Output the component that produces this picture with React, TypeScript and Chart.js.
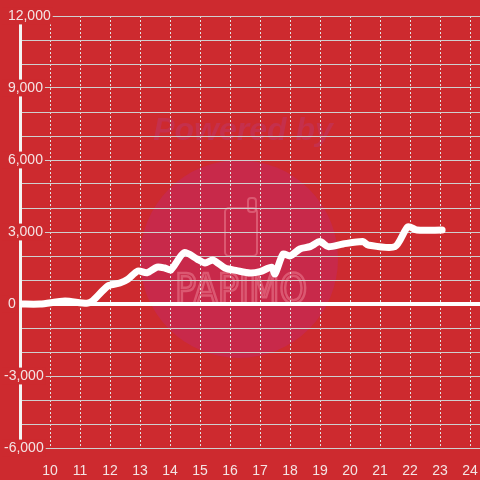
import React, { useEffect, useRef } from "react";
import { Chart, registerables } from "chart.js";

Chart.register(...registerables);

// Hour of day (x) and cumulative difference (y)
const hours = [9, 9.67, 10.5, 11.23, 11.43, 11.93, 12.33, 12.6, 12.93, 13.23, 13.57, 13.83, 14.03, 14.47, 14.9, 15.17, 15.43, 15.83, 16.23, 16.67, 17.0, 17.39, 17.5, 17.77, 18.0, 18.33, 18.67, 19.0, 19.27, 19.77, 20.43, 20.6, 21.5, 21.93, 22.23, 23.07];
const diffs = [0, 0, 120, 30, 140, 750, 875, 1040, 1375, 1300, 1540, 1500, 1420, 2140, 1875, 1710, 1830, 1500, 1390, 1290, 1345, 1530, 1250, 2080, 2000, 2290, 2390, 2600, 2390, 2500, 2600, 2460, 2390, 3220, 3080, 3080];

const xTicks = [10, 11, 12, 13, 14, 15, 16, 17, 18, 19, 20, 21, 22, 23, 24];
const yTicks = [-6000, -5000, -4000, -3000, -2000, -1000, 0, 1000, 2000, 3000, 4000, 5000, 6000, 7000, 8000, 9000, 10000, 11000, 12000];
const yLabelStep = 3000;
const watermarkTop = "Powered by";
const watermarkBrand = "PAPIMO";

const BG = "#cd2a2f";
const TEXT = "#f4e4e4";

const watermark = {
  id: "watermark",
  beforeDraw(chart: any) {
    const ctx = chart.ctx as CanvasRenderingContext2D;
    ctx.save();
    ctx.fillStyle = BG;
    ctx.fillRect(0, 0, chart.width, chart.height);
    // circle
    ctx.fillStyle = "#c8294a";
    ctx.beginPath();
    ctx.arc(239, 259, 99, 0, Math.PI * 2);
    ctx.fill();
    // Powered by
    ctx.fillStyle = "#c5304c";
    ctx.font = "italic bold 32px 'Liberation Sans', Arial, sans-serif";
    ctx.textAlign = "center";
    ctx.textBaseline = "alphabetic";
    ctx.fillText(watermarkTop, 243, 140);
    // icon
    ctx.strokeStyle = "rgba(232,120,140,0.6)";
    ctx.lineWidth = 2;
    ctx.beginPath();
    (ctx as any).roundRect(225, 208, 32, 48, 4);
    ctx.stroke();
    ctx.beginPath();
    (ctx as any).roundRect(248, 198, 8, 14, 3);
    ctx.stroke();
    // brand
    ctx.font = "40px 'DejaVu Sans Condensed', 'DejaVu Sans', sans-serif";
    const w = ctx.measureText(watermarkBrand).width;
    ctx.translate(241, 303);
    ctx.scale(132 / w, 1);
    ctx.lineWidth = 2.5;
    ctx.strokeText(watermarkBrand, 0, 0);
    ctx.restore();
  },
};

function fmt(v: number) {
  return Math.abs(v).toLocaleString("en-US");
}

export default function App() {
  const ref = useRef<HTMLCanvasElement | null>(null);
  useEffect(() => {
    if (!ref.current) return;
    Chart.defaults.font.family = "'Liberation Sans', Arial, sans-serif";
    Chart.defaults.font.size = 14;
    const chart = new Chart(ref.current, {
      type: "line",
      data: {
        datasets: [
          {
            data: hours.map((h, i) => ({ x: h, y: diffs[i] })),
            borderColor: "#ffffff",
            borderWidth: 7,
            pointRadius: 0,
            tension: 0.25,
            borderCapStyle: "round",
            borderJoinStyle: "round",
            fill: false,
          },
        ],
      },
      options: {
        animation: false,
        responsive: false,
        layout: { autoPadding: false, padding: { top: 16, left: 0, right: 0, bottom: 0 } },
        plugins: { legend: { display: false }, tooltip: { enabled: false } },
        scales: {
          x: {
            type: "linear",
            min: 9,
            max: 24.3333,
            afterBuildTicks: (s: any) => {
              s.ticks = xTicks.map((v) => ({ value: v }));
            },
            afterFit: (s: any) => {
              s.height = 32;
              s.paddingLeft = 0;
              s.paddingRight = 0;
            },
            grid: { color: "#e2e2e2", lineWidth: 1, drawTicks: false },
            border: { display: false, dash: [2, 2] },
            ticks: {
              color: TEXT,
              padding: 15,
              maxRotation: 0,
              autoSkip: false,
              font: { size: 14 },
              callback: (v: any) => String(v),
            },
          },
          y: {
            type: "linear",
            min: -6000,
            max: 12000,
            afterBuildTicks: (s: any) => {
              s.ticks = yTicks.map((v) => ({ value: v }));
            },
            afterFit: (s: any) => {
              s.width = 20;
              s.paddingTop = 0;
              s.paddingBottom = 0;
            },
            grid: {
              color: (c: any) => (c.tick && c.tick.value === 0 ? "#ffffff" : "#cfcfcf"),
              lineWidth: (c: any) => (c.tick && c.tick.value === 0 ? 4 : 1),
              drawTicks: false,
            },
            border: { display: true, color: "#f4f4f4", width: 3 },
            ticks: {
              mirror: true,
              padding: -16,
              color: TEXT,
              autoSkip: false,
              font: { size: 14 },
              callback: (v: any) => {
                const n = Number(v);
                if (n % yLabelStep !== 0) return "";
                return n < 0 ? "-" + fmt(n) : " " + fmt(n);
              },
              showLabelBackdrop: (c: any) => !!(c.tick && c.tick.value % yLabelStep === 0),
              backdropColor: BG,
              backdropPadding: { x: 2, y: 0 },
            },
          },
        },
      },
      plugins: [watermark],
    } as any);
    return () => chart.destroy();
  }, []);
  return (
    <div style={{ position: "fixed", left: 0, top: 0, width: 480, height: 480, background: BG }}>
      <canvas ref={ref} width={480} height={480} style={{ display: "block" }} />
    </div>
  );
}
